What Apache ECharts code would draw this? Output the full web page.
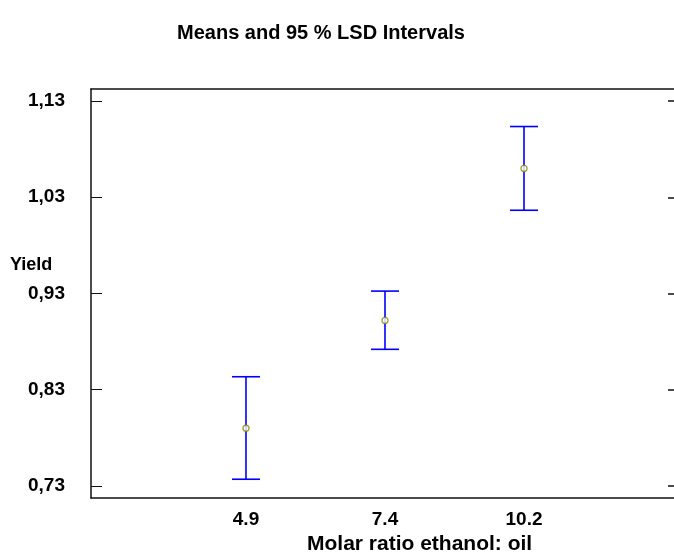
<!DOCTYPE html>
<html>
<head>
<meta charset="utf-8">
<script src="https://cdn.jsdelivr.net/npm/echarts@6/dist/echarts.min.js"></script>
<style>
html,body{margin:0;padding:0;background:#fff;}
#chart{width:674px;height:557px;}
</style>
</head>
<body>
<div id="chart"></div>
<script>
var categories = ['4.9', '7.4', '10.2'];
var means = [0.790, 0.902, 1.060];
var lower = [0.737, 0.872, 1.0165];
var upper = [0.8435, 0.9325, 1.1035];
var yTicks = [0.73, 0.83, 0.93, 1.03, 1.13];
var xPositions = [1, 2, 3];

var font = '"Liberation Sans", Arial, sans-serif';
var chart = echarts.init(document.getElementById('chart'), null, {renderer: 'canvas'});

var barData = categories.map(function (c, i) {
  return [xPositions[i], means[i], lower[i], upper[i]];
});
var meanData = categories.map(function (c, i) {
  return [xPositions[i], means[i]];
});

var boxLine = {show: true, onZero: false, lineStyle: {color: '#111', width: 1.5}};

var option = {
  animation: false,
  backgroundColor: '#fff',
  title: {
    text: 'Means and 95 % LSD Intervals',
    left: 316, top: 18, textAlign: 'center',
    textStyle: {fontFamily: font, fontWeight: 'bold', fontSize: 20, color: '#000'}
  },
  graphic: [
    {type: 'text', left: 10, top: 256,
     style: {text: 'Yield', fontFamily: font, fontWeight: 'bold', fontSize: 18, fill: '#000'}},
    {type: 'text', left: 307, top: 534,
     style: {text: 'Molar ratio ethanol: oil', fontFamily: font, fontWeight: 'bold', fontSize: 21, fill: '#000'}}
  ],
  grid: {left: 91, top: 89, right: 0, bottom: 59, show: false},
  xAxis: [
    {
      type: 'value', min: -0.115, max: 4.079, position: 'bottom',
      axisLine: boxLine, axisTick: {show: false}, splitLine: {show: false},
      axisLabel: {
        customValues: xPositions,
        formatter: function (v) { return categories[Math.round(v) - 1] || ''; },
        fontFamily: font, fontWeight: 'bold', fontSize: 19, color: '#000', margin: 12
      }
    },
    {
      type: 'value', min: -0.115, max: 4.079, position: 'top',
      axisLine: boxLine, axisTick: {show: false}, splitLine: {show: false},
      axisLabel: {show: false}
    }
  ],
  yAxis: [
    {
      type: 'value', min: 0.7175, max: 1.1425, position: 'left',
      axisLine: boxLine, splitLine: {show: false},
      axisTick: {show: true, inside: true, length: 11, customValues: yTicks, lineStyle: {color: '#111', width: 1}},
      axisLabel: {
        customValues: yTicks,
        formatter: function (v) { return v.toFixed(2).replace('.', ','); },
        fontFamily: font, fontWeight: 'bold', fontSize: 19, color: '#000', margin: 26
      }
    },
    {
      type: 'value', min: 0.7175, max: 1.1425, position: 'right',
      axisLine: {show: false, onZero: false}, splitLine: {show: false},
      axisTick: {show: true, inside: true, length: 6, customValues: yTicks, lineStyle: {color: '#111', width: 1.5}},
      axisLabel: {show: false}
    }
  ],
  series: [
    {
      type: 'custom',
      data: barData,
      renderItem: function (params, api) {
        var x = api.value(0);
        var top = api.coord([x, api.value(3)]);
        var bot = api.coord([x, api.value(2)]);
        var hw = 14;
        var style = {stroke: '#0000ff', lineWidth: 1.6};
        return {
          type: 'group',
          children: [
            {type: 'line', shape: {x1: top[0], y1: top[1], x2: bot[0], y2: bot[1]}, style: style},
            {type: 'line', shape: {x1: top[0] - hw, y1: top[1], x2: top[0] + hw, y2: top[1]}, style: style},
            {type: 'line', shape: {x1: bot[0] - hw, y1: bot[1], x2: bot[0] + hw, y2: bot[1]}, style: style}
          ]
        };
      },
      z: 2
    },
    {
      type: 'scatter',
      data: meanData,
      symbol: 'circle', symbolSize: 6,
      itemStyle: {color: '#ffffff', borderColor: '#8a8a00', borderWidth: 1.3},
      z: 3
    }
  ]
};
chart.setOption(option);
</script>
</body>
</html>
